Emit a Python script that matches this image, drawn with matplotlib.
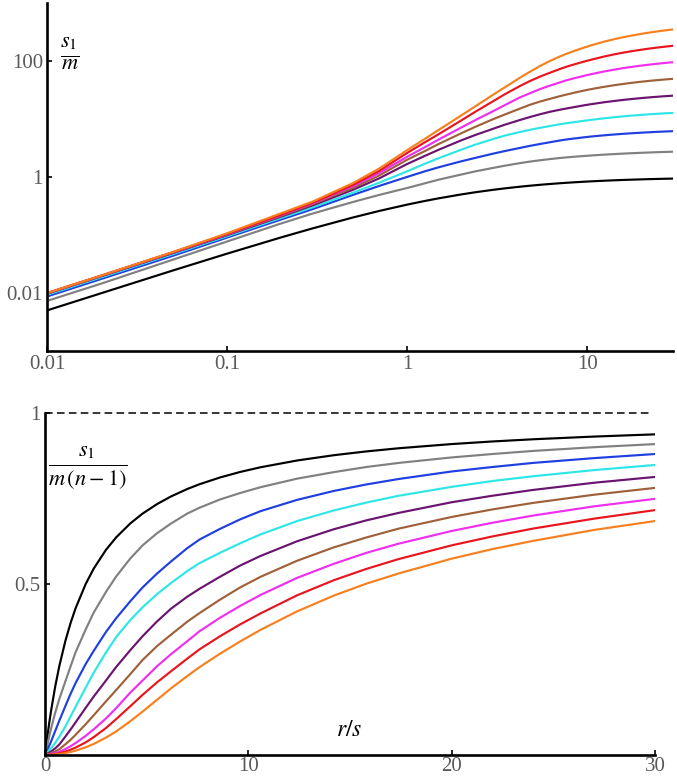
import matplotlib
matplotlib.use("Agg")
import matplotlib.pyplot as plt
from matplotlib.ticker import FixedLocator, NullLocator

plt.rcParams['font.family'] = ['Liberation Serif', 'DejaVu Serif']
plt.rcParams['mathtext.fontset'] = 'stix'

# --- DATA ---
# r/s positions where the curves were read
r_over_s = [0, 0.01, 0.02, 0.05, 0.1, 0.2, 0.3, 0.5, 0.7, 1,
            1.25, 1.5, 2, 2.4, 3, 3.5, 4.2, 4.8, 5.5, 6.2,
            7, 7.6, 8.6, 9.6, 10.6, 12.4, 14.2, 15.8, 17.4, 20,
            22, 24, 27, 30]

# n - 1 for each curve (top panel shows s_I/m = value * (n - 1))
n_minus_1 = [1, 3, 7, 15, 31, 63, 127, 255, 511]
colors = ['#000000', '#808080', '#1f3fe0', '#2ee6e6', '#6a1470',
          '#a0603a', '#f02ef0', '#e8141e', '#f7801e']

# s_I / (m (n - 1)) for each curve, bottom panel
f_black = [0, 0.005, 0.0099, 0.0244, 0.0476, 0.0909, 0.1304, 0.2, 0.2593, 0.3333,
           0.3846, 0.4286, 0.5, 0.5455, 0.6, 0.6364, 0.6774, 0.7059, 0.7333, 0.7561,
           0.7778, 0.7917, 0.8113, 0.8276, 0.8413, 0.8611, 0.8765, 0.8876, 0.8969, 0.9091,
           0.9167, 0.9231, 0.931, 0.9375]
f_gray = [0, 0.00243, 0.00483, 0.0125, 0.0257, 0.0527, 0.0783, 0.1233, 0.1633, 0.215,
          0.258, 0.30, 0.367, 0.417, 0.477, 0.522, 0.575, 0.613, 0.648, 0.677,
          0.706, 0.723, 0.747, 0.766, 0.783, 0.808, 0.827, 0.842, 0.854, 0.870,
          0.880, 0.889, 0.90, 0.909]
f_blue = [0, 0.00124, 0.00249, 0.00624, 0.01286, 0.02643, 0.04, 0.07, 0.1, 0.143,
          0.178, 0.21, 0.266, 0.305, 0.36, 0.40, 0.45, 0.49, 0.53, 0.566,
          0.605, 0.63, 0.661, 0.689, 0.713, 0.746, 0.772, 0.791, 0.807, 0.829,
          0.842, 0.854, 0.868, 0.88]
f_cyan = [0, 0.00062, 0.00124, 0.00311, 0.00633, 0.01313, 0.02007, 0.03553, 0.0532, 0.0831,
          0.112, 0.1407, 0.197, 0.2413, 0.30, 0.345, 0.395, 0.432, 0.47, 0.503,
          0.538, 0.561, 0.591, 0.619, 0.645, 0.684, 0.715, 0.738, 0.758, 0.784,
          0.801, 0.815, 0.833, 0.848]
f_purple = [0, 0.000313, 0.000626, 0.00157, 0.0032, 0.00671, 0.01048, 0.01935, 0.0305, 0.0539,
            0.074, 0.0952, 0.138, 0.1713, 0.218, 0.2574, 0.307, 0.3474, 0.39, 0.428,
            0.463, 0.486, 0.521, 0.554, 0.582, 0.625, 0.66, 0.686, 0.708, 0.739,
            0.758, 0.775, 0.796, 0.813]
f_brown = [0, 0.000156, 0.000313, 0.000792, 0.001611, 0.0034, 0.0054, 0.0103, 0.01683, 0.0314,
           0.044, 0.0589, 0.09, 0.1165, 0.157, 0.190, 0.237, 0.278, 0.318, 0.352,
           0.39, 0.415, 0.454, 0.49, 0.521, 0.568, 0.607, 0.636, 0.662, 0.696,
           0.718, 0.737, 0.761, 0.781]
f_magenta = [0, 7.8e-5, 1.56e-4, 3.94e-4, 8.11e-4, 1.73e-3, 2.77e-3, 5.47e-3, 9.21e-3, 0.01752,
             0.0255, 0.0349, 0.056, 0.0755, 0.107, 0.137, 0.183, 0.218, 0.259, 0.295,
             0.333, 0.362, 0.401, 0.436, 0.468, 0.518, 0.559, 0.591, 0.618, 0.655,
             0.679, 0.70, 0.727, 0.749]
f_red = [0, 3.9e-5, 7.8e-5, 1.97e-4, 4.08e-4, 8.78e-4, 1.41e-3, 2.86e-3, 4.98e-3, 0.01016,
         0.0154, 0.0215, 0.037, 0.0524, 0.079, 0.105, 0.143, 0.176, 0.212, 0.245,
         0.282, 0.309, 0.347, 0.382, 0.414, 0.467, 0.511, 0.544, 0.573, 0.613,
         0.639, 0.662, 0.691, 0.716]
f_orange = [0, 1.95e-5, 3.9e-5, 9.94e-5, 2.09e-4, 4.64e-4, 7.4e-4, 1.53e-3, 2.73e-3, 0.00566,
            0.0088, 0.0127, 0.0225, 0.0325, 0.051, 0.069, 0.099, 0.127, 0.161, 0.195,
            0.231, 0.257, 0.296, 0.332, 0.366, 0.42, 0.466, 0.501, 0.531, 0.574,
            0.602, 0.626, 0.658, 0.684]

curves = [f_black, f_gray, f_blue, f_cyan, f_purple, f_brown, f_magenta, f_red, f_orange]

top_xticks = [0.01, 0.1, 1, 10]
top_xlabels = ['0.01', '0.1', '1', '10']
top_yticks = [0.01, 1, 100]
top_ylabels = ['0.01', '1', '100']
bot_xticks = [0, 10, 20, 30]
bot_xlabels = ['0', '10', '20', '30']
bot_yticks = [0.5, 1]
bot_ylabels = ['0.5', '1']

TICK_GRAY = '#5a5a5a'

fig = plt.figure(figsize=(6.77, 7.77), dpi=100)
ax1 = fig.add_axes([0.0694, 0.5483, 0.9247, 0.4479])
ax2 = fig.add_axes([0.0665, 0.0283, 0.9010, 0.4402])


def style(ax, pad):
    for side in ('top', 'right'):
        ax.spines[side].set_visible(False)
    for side in ('left', 'bottom'):
        ax.spines[side].set_linewidth(1.9)
    ax.tick_params(direction='in', length=3.5, width=1.2, labelsize=15,
                   labelcolor=TICK_GRAY, pad=pad)
    ax.patch.set_visible(False)


# --- top panel: s_I/m on log-log axes ---
for vals, k, c in zip(curves, n_minus_1, colors):
    ax1.plot(r_over_s[1:], [v * k for v in vals[1:]], color=c, lw=1.55)
ax1.set_xscale('log')
ax1.set_yscale('log')
ax1.set_xlim(0.01, 30)
ax1.set_ylim(1e-3, 1e3)
ax1.xaxis.set_major_locator(FixedLocator(top_xticks))
ax1.yaxis.set_major_locator(FixedLocator(top_yticks))
ax1.xaxis.set_minor_locator(NullLocator())
ax1.yaxis.set_minor_locator(NullLocator())
ax1.set_xticklabels(top_xlabels)
ax1.set_yticklabels(top_ylabels)
style(ax1, 3)
ax1.text(0.037, 0.856, r'$\frac{s_{\mathit{1}}}{m}$', transform=ax1.transAxes,
         fontsize=23, ha='center', va='center')

# --- bottom panel: s_I / (m (n - 1)) ---
for vals, c in zip(curves, colors):
    ax2.plot(r_over_s, vals, color=c, lw=1.55)
ax2.axhline(1.0, xmin=0, xmax=0.992, color='black', lw=1.1, ls=(0, (5, 2.8)),
            clip_on=False)
ax2.set_xlim(0, 30)
ax2.set_ylim(0, 1)
ax2.xaxis.set_major_locator(FixedLocator(bot_xticks))
ax2.yaxis.set_major_locator(FixedLocator(bot_yticks))
ax2.set_xticklabels(bot_xlabels)
ax2.set_yticklabels(bot_ylabels)
style(ax2, 1.2)
ax2.tick_params(axis='y', pad=3)
ax2.text(0.0705, 0.839, r'$\frac{s_{\mathit{1}}}{m\,(n-\mathit{1})}$',
         transform=ax2.transAxes, fontsize=23, ha='center', va='center')
ax2.text(0.498, 0.073, r'$r/s$', transform=ax2.transAxes, fontsize=17,
         ha='center', va='center')

fig.savefig('out.png', dpi=100)
